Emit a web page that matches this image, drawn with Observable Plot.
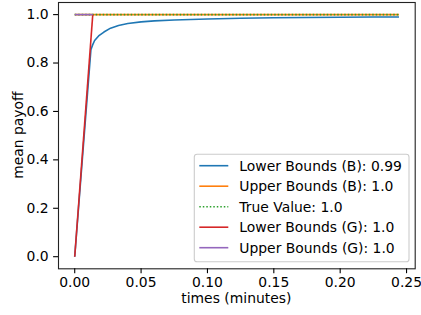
<!DOCTYPE html>
<html>
<head>
<meta charset="utf-8">
<script src="https://cdn.jsdelivr.net/npm/d3@7"></script>
<script src="https://cdn.jsdelivr.net/npm/@observablehq/plot@0.6"></script>
<style>
  html, body { margin: 0; padding: 0; background: #fff; }
  #chart svg { display: block; }
</style>
</head>
<body>
<div id="chart"></div>
<script>
// ---- data ----
const timesB = [0, 0.0122, 0.0135, 0.015, 0.018, 0.022, 0.027, 0.033, 0.04, 0.05, 0.06, 0.075, 0.1, 0.125, 0.15, 0.175, 0.2, 0.225, 0.2443];
const lowerB = [0, 0.855, 0.875, 0.893, 0.912, 0.928, 0.944, 0.955, 0.963, 0.970, 0.974, 0.978, 0.982, 0.985, 0.987, 0.988, 0.989, 0.990, 0.990];
const timesUpperB = [0, 0.2443];
const upperB = [1.0, 1.0];
const timesTrue = [0, 0.2443];
const trueValue = [1.0, 1.0];
const timesG = [0, 0.0136];
const lowerG = [0.0, 1.0];
const upperG = [1.0, 1.0];
const seriesNames = ["Lower Bounds (B): 0.99", "Upper Bounds (B): 1.0", "True Value: 1.0", "Lower Bounds (G): 1.0", "Upper Bounds (G): 1.0"];
const seriesColors = ["#1f77b4", "#ff7f0e", "#2ca02c", "#d62728", "#9467bd"];
const xTicks = [0, 0.05, 0.10, 0.15, 0.20, 0.25];
const yTicks = [0, 0.2, 0.4, 0.6, 0.8, 1.0];
const xLabel = "times (minutes)";
const yLabel = "mean payoff";

// ---- build tables ----
const zip = (xs, ys) => xs.map((x, i) => ({t: x, v: ys[i]}));
const series = [
  zip(timesB, lowerB),
  zip(timesUpperB, upperB),
  zip(timesTrue, trueValue),
  zip(timesG, lowerG),
  zip(timesG, upperG)
];

const FONT = "DejaVu Sans, sans-serif";
const FS = 13.9;
const LW = 1.6;
const DASH = "1.5,2";
const W = 421, H = 315;
const mL = 58, mT = 2, mR = 6.3, mB = 46.7;

const marks = [];
series.forEach((data, i) => {
  const opts = {x: "t", y: "v", stroke: seriesColors[i], strokeWidth: LW, strokeLinecap: "butt", strokeLinejoin: "round"};
  if (i === 2) { opts.strokeDasharray = DASH; }
  marks.push(Plot.line(data, opts));
});

const chart = Plot.plot({
  width: W,
  height: H,
  marginLeft: mL,
  marginTop: mT,
  marginRight: mR,
  marginBottom: mB,
  style: {fontFamily: FONT, fontSize: FS + "px", background: "#fff", color: "#000"},
  x: {domain: [-0.01222, 0.25652]},
  y: {domain: [-0.05, 1.05]},
  marks: [
    ...marks,
    Plot.frame({stroke: "#222", strokeWidth: 1.1}),
    Plot.axisX(xTicks, {tickSize: 4.9, tickPadding: 3.5, tickFormat: d3.format(".2f"), label: null, fontSize: FS, strokeWidth: 1.1}),
    Plot.axisY(yTicks, {tickSize: 4.9, tickPadding: 4.9, tickFormat: d3.format(".1f"), label: null, fontSize: FS, strokeWidth: 1.1})
  ]
});

document.getElementById("chart").appendChild(chart);

// axis titles and legend
const svg = d3.select(chart);
svg.append("text")
  .attr("x", mL + (W - mL - mR) / 2)
  .attr("y", 298)
  .attr("text-anchor", "middle")
  .attr("dominant-baseline", "central")
  .style("font-family", FONT).style("font-size", FS + "px").attr("fill", "#000")
  .text(xLabel);
svg.append("text")
  .attr("transform", `translate(18,${mT + (H - mT - mB) / 2}) rotate(-90)`)
  .attr("text-anchor", "middle")
  .attr("dominant-baseline", "central")
  .style("font-family", FONT).style("font-size", FS + "px").attr("fill", "#000")
  .text(yLabel);

const lg = svg.append("g");
lg.append("rect")
  .attr("x", 194.3).attr("y", 154.3).attr("width", 214.7).attr("height", 107.4)
  .attr("rx", 2.8).attr("fill", "#fff").attr("fill-opacity", 0.8)
  .attr("stroke", "#cccccc").attr("stroke-width", 1.1);
seriesNames.forEach((name, i) => {
  const yy = 165.7 + i * 20.5;
  const ln = lg.append("line")
    .attr("x1", 199.3).attr("x2", 228.3).attr("y1", yy).attr("y2", yy)
    .attr("stroke", seriesColors[i]).attr("stroke-width", LW);
  if (i === 2) ln.attr("stroke-dasharray", DASH);
  lg.append("text")
    .attr("x", 239.3).attr("y", yy)
    .attr("text-anchor", "start")
    .attr("dominant-baseline", "central")
    .style("font-family", FONT).style("font-size", FS + "px").attr("fill", "#000")
    .text(name);
});
</script>
</body>
</html>
